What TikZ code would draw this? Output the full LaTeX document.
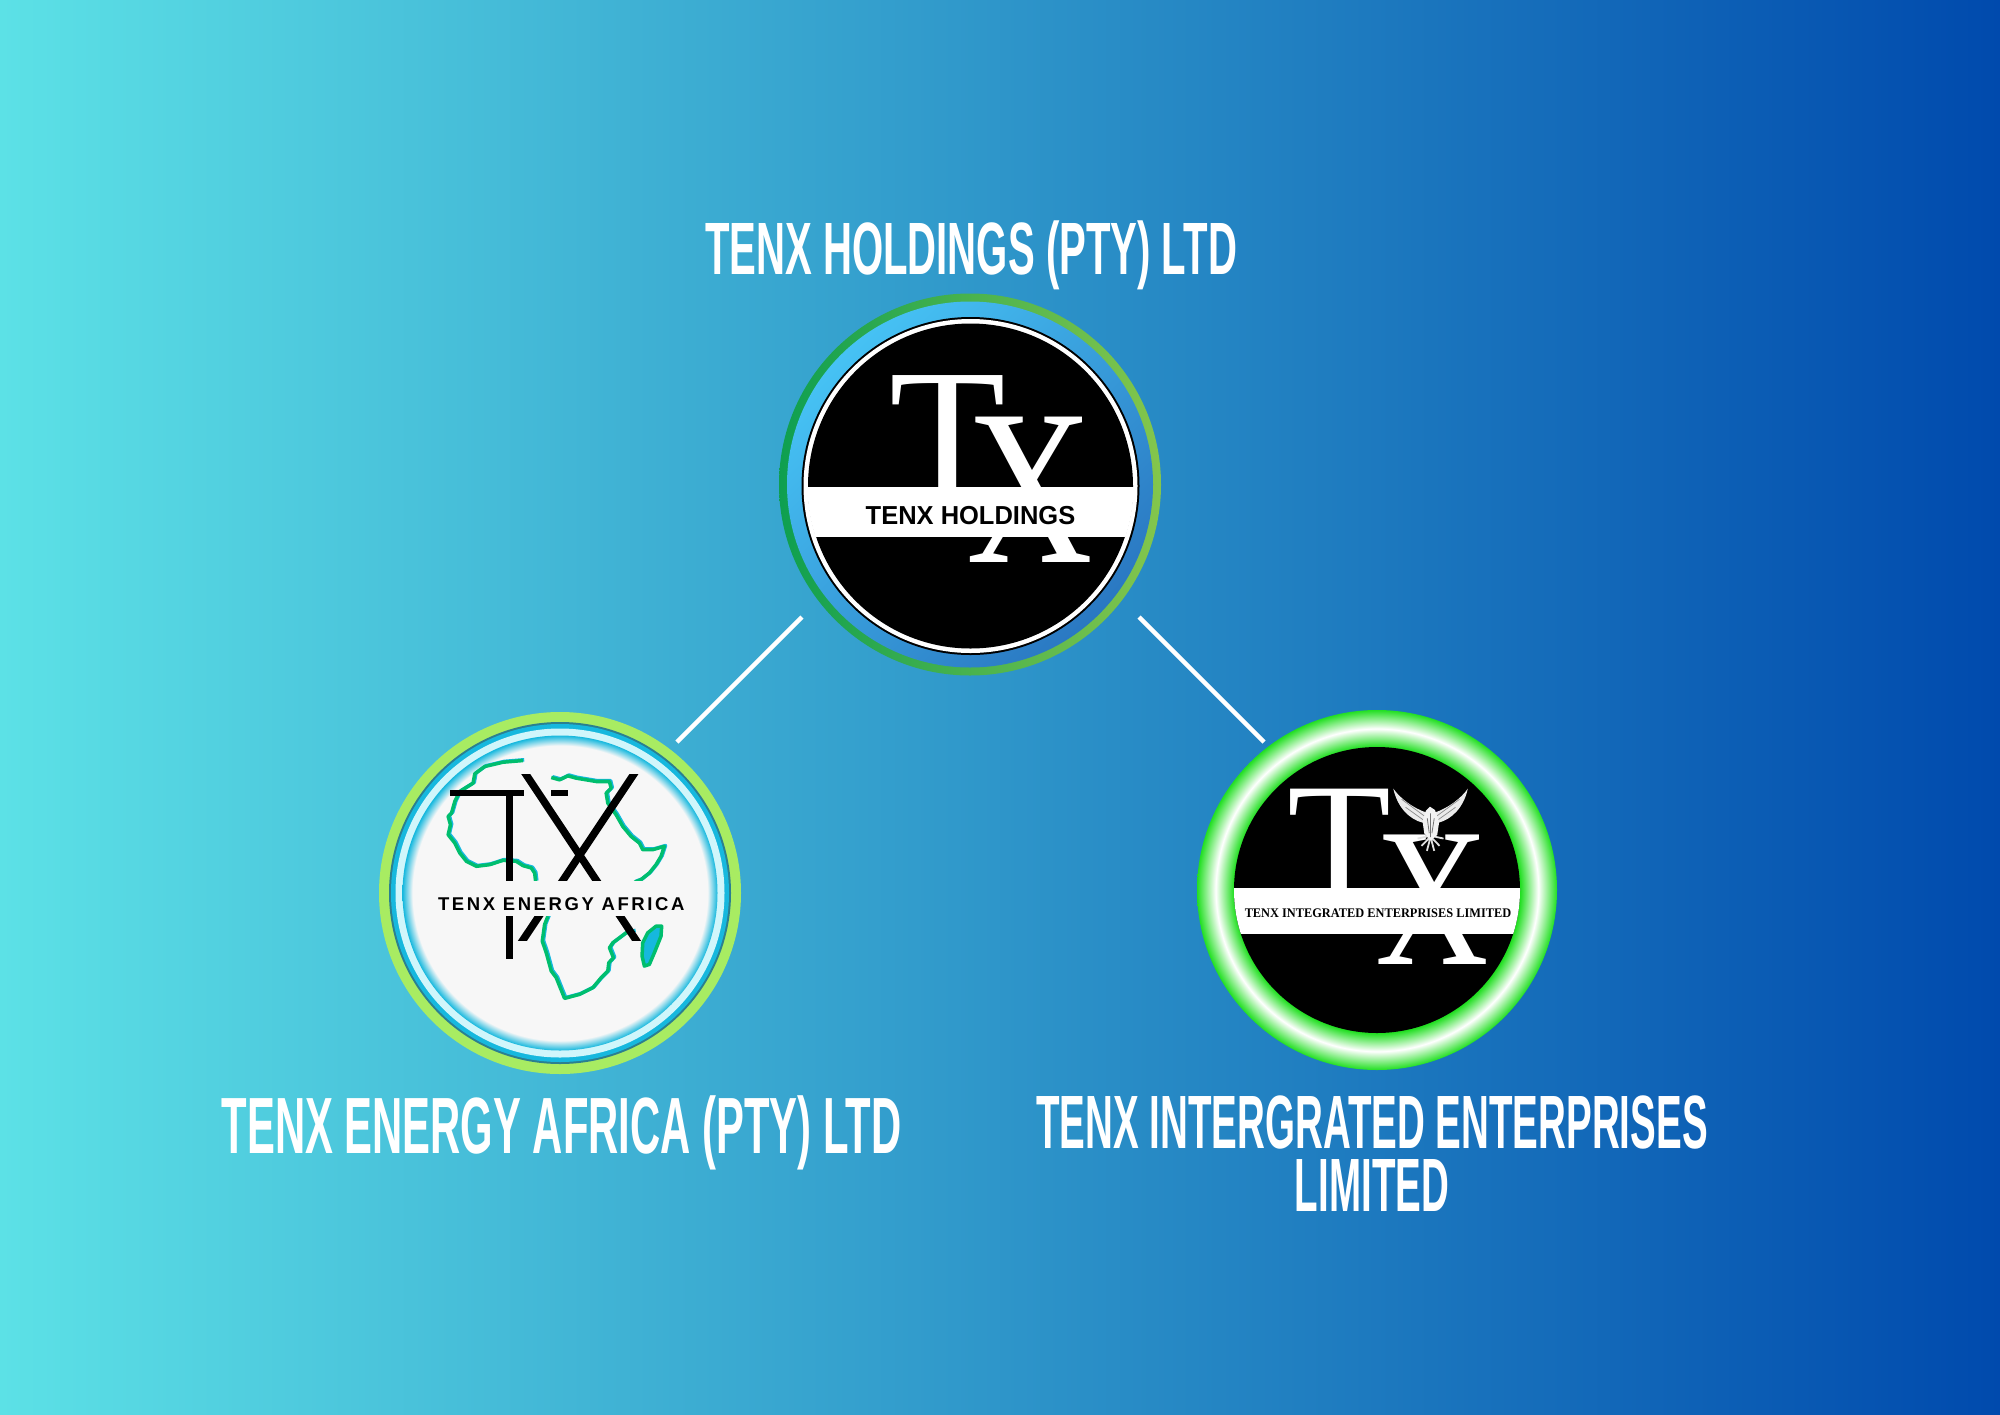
\documentclass[tikz,border=0pt]{standalone}
\usepackage{fontspec}
\setmainfont{Liberation Sans}
\newfontfamily\logoserif{Liberation Serif}
\newfontfamily\logospaced[LetterSpace=14]{Liberation Sans}
\usetikzlibrary{positioning}
\definecolor{skyleft}{HTML}{5CE1E6}
\definecolor{skyright}{HTML}{004AAD}
\definecolor{ringgreena}{HTML}{0E9F50}
\definecolor{ringgreenb}{HTML}{84C64C}
\definecolor{ringbluea}{HTML}{46C2F4}
\definecolor{ringblueb}{HTML}{2A78C2}
\definecolor{limering}{HTML}{A8EC62}
\definecolor{tealline}{HTML}{2B7F90}
\definecolor{cyanring}{HTML}{16B8DE}
\definecolor{paleblue}{HTML}{D0F6FB}
\definecolor{offwhite}{HTML}{F7F7F7}
\definecolor{africagreen}{HTML}{00BE6E}
\definecolor{neongreen}{HTML}{22DF22}
\pgfdeclareradialshading{energyglow}{\pgfpoint{0bp}{0bp}}{color(0bp)=(offwhite); color(23.4bp)=(offwhite); color(25bp)=(cyanring); color(50bp)=(cyanring)}
\pgfdeclareradialshading{neonglow}{\pgfpoint{0bp}{0bp}}{color(0bp)=(neongreen); color(19.9bp)=(neongreen); color(22.4bp)=(white); color(25bp)=(neongreen); color(50bp)=(neongreen)}
\tikzset{
  disc/.style={circle,inner sep=0pt,outer sep=0pt},
  title/.style={text=white,inner sep=0pt,anchor=base,transform shape,align=center},
  letter/.style={inner sep=0pt,anchor=base,transform shape},
  link/.style={draw=white,line width=1.25mm*0.35},
  stroke/.style={line width=0.075cm,black}
}
\newcommand{\titlefont}[2]{\bfseries\fontsize{#1}{#2}\selectfont}
\newcommand{\serifsize}[1]{\logoserif\fontsize{#1}{#1}\selectfont}
\begin{document}
\begin{tikzpicture}
\useasboundingbox (0,0) rectangle (20,-14.14);
\shade[left color=skyleft,right color=skyright] (0,0) rectangle (20,-14.14);
%
\node[title,font=\titlefont{21.1}{24},xscale=0.541] (holdingtitle) at (9.71,-2.74) {TENX HOLDINGS (PTY) LTD};
\node[title,font=\titlefont{22.7}{24},xscale=0.524] (energytitle) at (5.615,-11.53) {TENX ENERGY AFRICA (PTY) LTD};
\node[title,font=\titlefont{21.5}{17.9},xscale=0.51] (integratedtitle) at (13.72,-12.11) {TENX INTERGRATED ENTERPRISES\\LIMITED};
%
% holdings
\node[disc,minimum size=3.82cm,left color=ringgreena,right color=ringgreenb] (holding) at (9.70,-4.845) {};
\node[disc,minimum size=3.66cm,top color=ringbluea,bottom color=ringblueb,shading angle=45] (holdingblue) at (holding) {};
\node[disc,minimum size=3.38cm,fill=black] (holdingedge) at (9.705,-4.86) {};
\node[disc,minimum size=3.34cm,fill=white] (holdingwhite) at (holdingedge) {};
\node[disc,minimum size=3.25cm,fill=black] (holdingblack) at (holdingedge) {};
\node[letter,text=white,font=\serifsize{54.3}] (holdingT) at (9.48,-5.00) {T};
\node[letter,text=white,font=\serifsize{63.2},xscale=0.79] (holdingX) at (10.30,-5.62) {X};
\begin{scope}
\clip (holdingedge) circle (1.63);
\fill[white] (7.9,-4.87) rectangle (11.5,-5.37);
\end{scope}
\node[inner sep=0pt,font=\bfseries\fontsize{7.4}{8}\selectfont,xscale=0.98,transform shape,text=black] (holdingname) at (9.705,-5.155) {TENX HOLDINGS};
%
% energy
\node[disc,minimum size=3.62cm,fill=limering] (energy) at (5.60,-8.93) {};
\node[disc,minimum size=3.42cm,fill=tealline] (energyedge) at (energy) {};
\node[disc,minimum size=3.38cm,fill=cyanring] (energycyan) at (energy) {};
\node[disc,minimum size=3.29cm,fill=paleblue] (energypale) at (energy) {};
\node[disc,minimum size=3.15cm,shade,shading=energyglow] (energydisc) at (energy) {};
\begin{scope}[shift={(3.6,-7.0)},x=0.00333cm,y=-0.00333cm]
\def\africa{(490,182) -- (430,187) -- (375,200) -- (345,222) -- (340,250) -- (300,275) -- (285,305) -- (275,340) -- (265,350) -- (272,375) -- (265,405) -- (285,430) -- (300,460) -- (320,485) -- (350,500) -- (390,495) -- (430,482) -- (470,485) -- (490,498) -- (515,505) -- (525,520) -- (528,545)
 (575,233) -- (600,240) -- (625,228) -- (650,235) -- (680,240) -- (710,245) -- (750,245) -- (755,265) -- (740,280) -- (745,310) -- (770,345) -- (790,380) -- (815,410) -- (840,430) -- (850,450) -- (880,450) -- (915,440) -- (905,470) -- (890,495) -- (870,520) -- (845,540) -- (825,548)
 (565,650) -- (555,675) -- (548,725) -- (560,760) -- (575,815) -- (590,835) -- (615,897) -- (660,885) -- (700,865) -- (725,835) -- (745,815) -- (748,790) -- (762,775) -- (750,745) -- (760,730) -- (800,700) -- (825,695)}
\def\island{(890,680) -- (907,680) -- (905,710) -- (885,760) -- (870,795) -- (855,800) -- (848,770) -- (850,730) -- (865,700) -- cycle}
\fill[cyanring] \island;
\draw[africagreen,line width=0.035cm,line join=round] \island;
\draw[cyanring,line width=0.035cm,line join=round,xshift=0.012cm,yshift=0.008cm] \africa;
\draw[africagreen,line width=0.035cm,line join=round] \africa;
\fill[black] (270,270) rectangle (492,290);
\fill[black] (575,270) rectangle (625,290);
\fill[black] (438,270) rectangle (460,780);
\begin{scope}
\clip (400,225) rectangle (900,722);
\draw[stroke] (483.4,200) -- (848.6,750);
\draw[stroke] (838.7,200) -- (471,750);
\end{scope}
\fill[offwhite] (180,545) rectangle (1010,650);
\node[inner sep=0pt,font=\logospaced\bfseries\fontsize{5.26}{6}\selectfont,text=black] (energyname) at (605,613) {TENX ENERGY AFRICA};
\end{scope}
%
% integrated
\node[disc,minimum size=3.60cm,shade,shading=neonglow] (integrated) at (13.77,-8.90) {};
\node[disc,minimum size=2.86cm,fill=black] (integratedblack) at (integrated) {};
\node[letter,text=white,font=\serifsize{48.4}] (integratedT) at (13.39,-9.006) {T};
\node[letter,text=white,font=\serifsize{56.3},xscale=0.795] (integratedX) at (14.32,-9.64) {X};
\begin{scope}
\clip (integrated) circle (1.43);
\fill[white] (12.2,-8.88) rectangle (15.3,-9.34);
\end{scope}
\node[inner sep=0pt,font=\logoserif\bfseries\fontsize{3.74}{4}\selectfont,xscale=0.94,transform shape,text=black] (integratedname) at (13.78,-9.135) {TENX INTEGRATED ENTERPRISES LIMITED};
% eagle
\begin{scope}[shift={(13.85,-7.80)},x=0.00333cm,y=-0.00333cm]
\foreach \Flip/\Move in {1/0,-1/274} {
\begin{scope}[shift={(\Move,0)},xscale=\Flip]
\fill[white!92!black] (25,26) .. controls (45,55) and (85,85) .. (125,98) -- (128,128) -- (112,128) .. controls (75,118) and (38,85) .. cycle;
\draw[black!45,line width=0.007cm] (50,58) -- (118,108) (62,82) -- (115,120);
\draw[white!88!black,line width=0.018cm] (135,168) -- (98,176) (135,172) -- (110,198) (136,175) -- (126,213);
\end{scope}
}
\fill[white!95!black] (123,92) -- (135,80) -- (150,90) -- (163,125) -- (157,165) -- (137,182) -- (118,160) -- (113,125) -- cycle;
\draw[black!55,line width=0.008cm] (137,100) -- (137,172) (127,115) -- (133,160) (148,115) -- (141,160);
\end{scope}
%
\coordinate (holdingleft) at (8.02,-6.17);
\coordinate (holdingright) at (11.39,-6.17);
\coordinate (energyend) at (6.77,-7.42);
\coordinate (integratedend) at (12.64,-7.42);
\foreach \Source/\Target in {%
        holdingleft/energyend,
        holdingright/integratedend%
    }
\draw[link] (\Source) to (\Target);
\end{tikzpicture}
\end{document}
